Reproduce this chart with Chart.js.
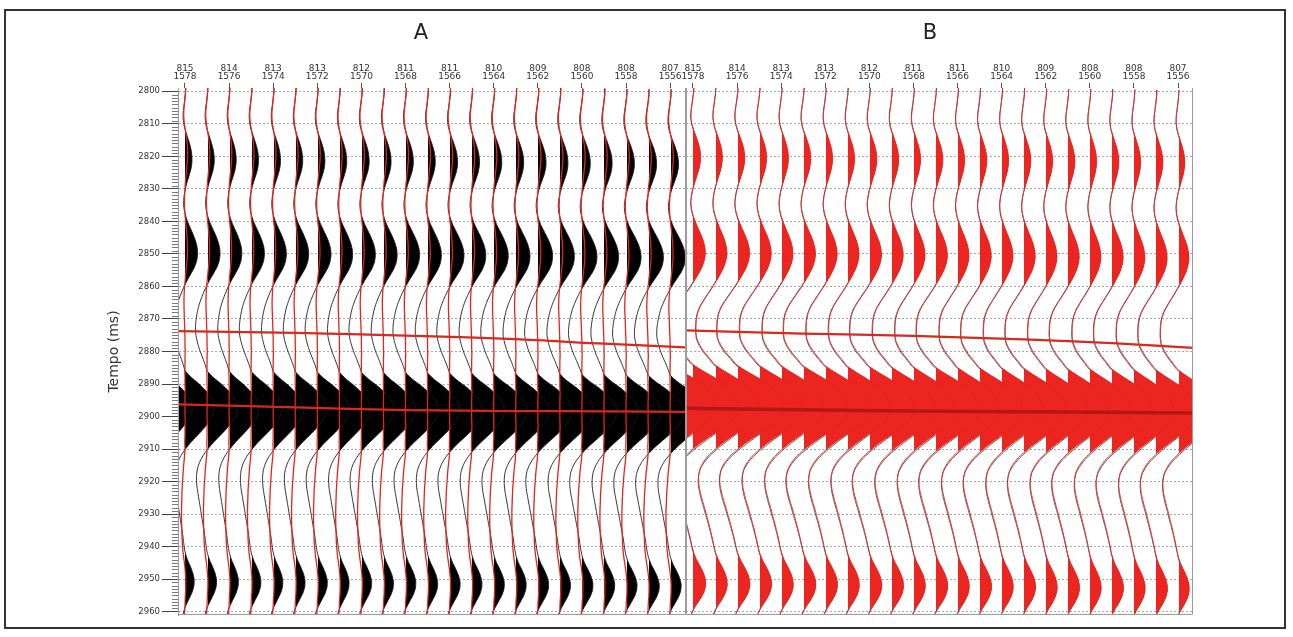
<!DOCTYPE html>
<html>
<head>
<meta charset="utf-8">
<script src="https://cdn.jsdelivr.net/npm/chart.js@4.4.1/dist/chart.umd.min.js"></script>
<style>
  html, body { margin: 0; padding: 0; background: #fff; }
  body { width: 1293px; height: 637px; position: relative; overflow: hidden; font-family: "DejaVu Sans", sans-serif; }
  #frame { position: absolute; left: 4px; top: 9px; width: 1278px; height: 616px; border: 2px solid #333; }
  .panel-title { position: absolute; top: 20px; font-size: 21px; line-height: 24px; color: #222; transform: translateX(-50%); }
  #canvasA { position: absolute; left: 0; top: 0; }
  #canvasB { position: absolute; left: 640px; top: 0; }
</style>
</head>
<body>
<div id="frame"></div>
<canvas id="canvasA" width="692" height="637"></canvas>
<canvas id="canvasB" width="653" height="637"></canvas>
<div class="panel-title" style="left:421px">A</div>
<div class="panel-title" style="left:930px">B</div>
<script>
// sample times (ms) of every trace
const times = [2798, 2800, 2802, 2804, 2806, 2808, 2810, 2812, 2814, 2816,
  2818, 2820, 2822, 2824, 2826, 2828, 2830, 2832, 2834, 2836,
  2838, 2840, 2842, 2844, 2846, 2848, 2850, 2852, 2854, 2856,
  2858, 2860, 2862, 2864, 2866, 2868, 2870, 2872, 2874, 2876,
  2878, 2880, 2882, 2884, 2886, 2888, 2890, 2892, 2894, 2896,
  2898, 2900, 2902, 2904, 2906, 2908, 2910, 2912, 2914, 2916,
  2918, 2920, 2922, 2924, 2926, 2928, 2930, 2932, 2934, 2936,
  2938, 2940, 2942, 2944, 2946, 2948, 2950, 2952, 2954, 2956,
  2958, 2960, 2962];

// trace slots in each panel (-1 sits just left of the visible window)
const traceIdx = [-1, 0, 1, 2, 3, 4, 5, 6, 7, 8, 9, 10, 11, 12, 13, 14, 15, 16, 17, 18, 19, 20, 21, 22];
const labelTraces = [0, 2, 4, 6, 8, 10, 12, 14, 16, 18, 20, 22];
const inlineLabels = ['815', '814', '813', '813', '812', '811', '811', '810', '809', '808', '808', '807'];
const xlineLabels = ['1578', '1576', '1574', '1572', '1570', '1568', '1566', '1564', '1562', '1560', '1558', '1556'];
const yTicks = [2800, 2810, 2820, 2830, 2840, 2850, 2860, 2870, 2880, 2890, 2900, 2910, 2920, 2930, 2940, 2950, 2960];

// panel A: filled black trace, amplitude in trace spacings
const ampA = [0.04, 0.03, 0.0, -0.04, -0.08, -0.09, -0.06, 0.02, 0.12, 0.22,
  0.3, 0.34, 0.34, 0.29, 0.2, 0.1, 0.02, -0.04, -0.07, -0.05,
  0.02, 0.12, 0.26, 0.4, 0.52, 0.6, 0.62, 0.58, 0.47, 0.3,
  0.12, -0.04, -0.18, -0.3, -0.4, -0.47, -0.52, -0.55, -0.55, -0.5,
  -0.42, -0.32, -0.2, -0.09, 0.02, 0.32, 0.7, 1.02, 1.28, 1.42,
  1.44, 1.34, 1.14, 0.88, 0.58, 0.28, 0.02, -0.2, -0.36, -0.46,
  -0.5, -0.5, -0.47, -0.42, -0.37, -0.32, -0.27, -0.22, -0.17, -0.12,
  -0.08, -0.04, 0.02, 0.12, 0.26, 0.38, 0.45, 0.44, 0.35, 0.2,
  0.05, -0.07, -0.12];
// panel A: red line trace
const redA = [0.04, 0.03, 0.0, -0.03, -0.06, -0.06, -0.03, 0.02, 0.07, 0.11,
  0.13, 0.13, 0.11, 0.08, 0.05, 0.02, 0.0, -0.02, -0.03, -0.02,
  0.0, 0.03, 0.06, 0.09, 0.11, 0.12, 0.12, 0.1, 0.07, 0.04,
  0.01, -0.02, -0.04, -0.05, -0.05, -0.04, -0.03, -0.02, -0.01, 0.0,
  0.0, 0.01, 0.0, 0.0, -0.01, 0.0, 0.0, 0.01, 0.0, 0.0,
  0.0, 0.0, 0.01, 0.0, 0.0, -0.01, 0.0, -0.02, -0.05, -0.08,
  -0.1, -0.12, -0.14, -0.15, -0.16, -0.17, -0.17, -0.17, -0.16, -0.15,
  -0.14, -0.12, -0.09, -0.05, -0.01, 0.02, 0.04, 0.04, 0.03, 0.01,
  0.0, -0.02, -0.03];
// panel B: filled red trace
const ampB = [0.04, 0.03, 0.0, -0.04, -0.08, -0.09, -0.05, 0.04, 0.14, 0.24,
  0.31, 0.34, 0.32, 0.26, 0.17, 0.08, 0.0, -0.06, -0.09, -0.07,
  0.0, 0.1, 0.22, 0.35, 0.46, 0.53, 0.55, 0.5, 0.4, 0.25,
  0.08, -0.1, -0.3, -0.5, -0.68, -0.8, -0.86, -0.88, -0.88, -0.84,
  -0.7, -0.5, -0.25, 0.0, 0.45, 0.95, 1.38, 1.7, 1.9, 2.0,
  2.0, 1.88, 1.6, 1.2, 0.78, 0.36, 0.0, -0.32, -0.55, -0.7,
  -0.76, -0.76, -0.72, -0.65, -0.57, -0.48, -0.4, -0.32, -0.24, -0.17,
  -0.1, -0.04, 0.04, 0.16, 0.32, 0.46, 0.55, 0.56, 0.48, 0.32,
  0.12, -0.04, -0.12];
// panel B: black line trace
const lineB = [0.05, 0.03, -0.01, -0.05, -0.09, -0.1, -0.06, 0.02, 0.12, 0.21,
  0.28, 0.31, 0.3, 0.25, 0.16, 0.07, -0.01, -0.07, -0.1, -0.08,
  -0.02, 0.08, 0.2, 0.32, 0.43, 0.5, 0.52, 0.48, 0.38, 0.23,
  0.06, -0.12, -0.32, -0.52, -0.7, -0.82, -0.88, -0.9, -0.9, -0.86,
  -0.74, -0.55, -0.3, -0.05, 0.4, 0.9, 1.35, 1.68, 1.9, 2.0,
  2.0, 1.9, 1.64, 1.26, 0.85, 0.45, 0.08, -0.25, -0.5, -0.68,
  -0.76, -0.78, -0.75, -0.69, -0.61, -0.52, -0.44, -0.35, -0.27, -0.19,
  -0.12, -0.05, 0.02, 0.13, 0.29, 0.43, 0.52, 0.54, 0.47, 0.33,
  0.14, -0.02, -0.1];

// per-trace gain and time shift (ms)
const gainA = [0.92, 0.92, 0.95, 0.93, 0.97, 0.96, 0.98, 1.0, 0.97, 1.02, 1.0, 1.03,
  1.01, 1.05, 1.03, 1.06, 1.04, 1.08, 1.06, 1.1, 1.07, 1.1, 1.12, 1.1];
const gainB = [1.0, 1.02, 0.98, 1.03, 1.0, 0.97, 1.01, 0.98, 0.96, 1.0, 0.97, 0.95,
  0.98, 0.94, 0.96, 0.93, 0.95, 0.92, 0.94, 0.91, 0.93, 0.9, 0.92, 0.9];
const shiftA = [0, 0, 0.1, 0.1, 0.2, 0.3, 0.3, 0.4, 0.5, 0.5, 0.6, 0.6,
  0.7, 0.8, 0.8, 0.9, 1.0, 1.0, 1.1, 1.2, 1.2, 1.3, 1.4, 1.4];
const shiftB = [0, 0, 0.1, 0.2, 0.2, 0.3, 0.4, 0.4, 0.5, 0.6, 0.7, 0.7,
  0.8, 0.9, 1.0, 1.0, 1.1, 1.2, 1.3, 1.3, 1.4, 1.5, 1.6, 1.6];

// picked horizons (ms) at a few trace slots
const hznX = [-1, 5, 10, 15, 19, 23];
const hznA1 = [2873.7, 2874.3, 2875.1, 2876.2, 2877.6, 2878.8];
const hznA2 = [2896.1, 2897.2, 2898.0, 2898.3, 2898.4, 2898.6];
const hznB1 = [2873.4, 2874.5, 2875.2, 2876.3, 2877.4, 2879.0];
const hznB2 = [2897.4, 2897.9, 2898.3, 2898.5, 2898.7, 2898.9];

const FONT = 'DejaVu Sans';

function wiggle(amp, gain, shift, k) {
  return times.map((t, n) => ({ x: traceIdx[k] + amp[n] * gain[k], y: t + shift[k] }));
}

function horizon(ts, color, width) {
  return { data: hznX.map((x, n) => ({ x, y: ts[n] })), borderColor: color, borderWidth: width, tension: 0.3 };
}

// variable-area fill: positive side of each trace, filled from its zero line
const varArea = {
  id: 'varArea',
  beforeDatasetDraw(chart, args) {
    const ds = chart.data.datasets[args.index];
    if (!ds.areaColor) return;
    const { ctx, chartArea: a } = chart;
    const base = chart.scales.x.getPixelForValue(ds.base);
    const left = Math.max(Math.ceil(base), a.left);
    if (left >= a.right) return;
    const pts = args.meta.data;
    ctx.save();
    ctx.beginPath();
    ctx.rect(left, a.top, a.right - left, a.bottom - a.top);
    ctx.clip();
    ctx.beginPath();
    args.meta.dataset.path(ctx);
    ctx.lineTo(base, pts[pts.length - 1].y);
    ctx.lineTo(base, pts[0].y);
    ctx.closePath();
    ctx.fillStyle = ds.areaColor;
    ctx.fill();
    ctx.restore();
  }
};

// 1 ms minor ticks on the time axis
const minorTicks = {
  id: 'minorTicks',
  afterDraw(chart) {
    const { ctx, chartArea: a, scales: { y } } = chart;
    ctx.save();
    ctx.strokeStyle = '#555';
    ctx.lineWidth = 0.8;
    ctx.beginPath();
    for (let v = yTicks[0]; v <= yTicks[yTicks.length - 1]; v++) {
      if (yTicks.includes(v)) continue;
      const p = Math.round(y.getPixelForValue(v)) + 0.5;
      ctx.moveTo(a.left - 6, p);
      ctx.lineTo(a.left, p);
    }
    ctx.stroke();
    ctx.restore();
  }
};

// plot frame: left, right and bottom edges
const frame = {
  id: 'frame',
  afterDatasetsDraw(chart) {
    const { ctx, chartArea: a } = chart;
    ctx.save();
    ctx.strokeStyle = '#9c9c9c';
    ctx.lineWidth = 1;
    ctx.beginPath();
    ctx.moveTo(a.left + 0.5, a.top);
    ctx.lineTo(a.left + 0.5, a.bottom - 0.5);
    ctx.lineTo(a.right - 0.5, a.bottom - 0.5);
    ctx.lineTo(a.right - 0.5, a.top);
    ctx.stroke();
    ctx.restore();
  }
};

function xScale(max) {
  return {
    type: 'linear', position: 'top', min: -0.317, max,
    afterBuildTicks: s => { s.ticks = labelTraces.map(v => ({ value: v })); },
    afterFit: s => { s.height = 88; },
    grid: { drawOnChartArea: false, drawTicks: true, tickLength: 5, tickColor: '#555' },
    border: { display: false },
    ticks: {
      autoSkip: false, maxRotation: 0, padding: 2, color: '#333',
      font: { family: FONT, size: 9, lineHeight: 0.9 },
      callback: v => {
        const k = labelTraces.indexOf(v);
        return k < 0 ? '' : [inlineLabels[k], xlineLabels[k]];
      }
    }
  };
}

const baseOptions = {
  responsive: false,
  animation: false,
  events: [],
  elements: {
    point: { radius: 0 },
    line: { tension: 0.2, capBezierPoints: false, fill: false }
  },
  plugins: { legend: { display: false }, tooltip: { enabled: false }, title: { display: false } }
};

// ---- panel A
const dsA = [horizon(hznA1, '#d42a20', 2.2), horizon(hznA2, '#d42a20', 2.2)];
traceIdx.forEach((tr, k) => dsA.push({ data: wiggle(redA, gainA, shiftA, k), borderColor: '#e3231d', borderWidth: 1.3 }));
traceIdx.forEach((tr, k) => dsA.push({ data: wiggle(ampA, gainA, shiftA, k), borderColor: '#1a1a1a', borderWidth: 0.9, areaColor: '#000', base: tr }));

new Chart(document.getElementById('canvasA'), {
  type: 'line',
  data: { datasets: dsA },
  options: Object.assign({}, baseOptions, {
    layout: { padding: { left: 0, right: 6, top: 0, bottom: 22 } },
    scales: {
      x: xScale(22.72),
      y: {
        type: 'linear', position: 'left', reverse: true, min: 2799, max: 2961,
        afterBuildTicks: s => { s.ticks = yTicks.map(v => ({ value: v })); },
        afterFit: s => { s.width = 178; },
        grid: { color: '#a8a8a8', tickColor: '#444', tickLength: 16 },
        border: { display: true, color: '#888', dash: [2, 2] },
        ticks: { padding: 2, color: '#333', font: { family: FONT, size: 8.5 }, callback: v => String(v) },
        title: { display: true, text: 'Tempo (ms)', color: '#333', font: { family: FONT, size: 14 }, padding: { top: 106, bottom: 0 } }
      }
    }
  }),
  plugins: [varArea, minorTicks, frame]
});

// ---- panel B
const dsB = [horizon(hznB1, '#d42a20', 2.2), horizon(hznB2, '#b51712', 3.5)];
traceIdx.forEach((tr, k) => dsB.push({ data: wiggle(ampB, gainB, shiftB, k), borderColor: '#e5221d', borderWidth: 0.9, areaColor: '#ec2521', base: tr }));
traceIdx.forEach((tr, k) => dsB.push({ data: wiggle(lineB, gainB, shiftB, k), borderColor: '#4d4d4d', borderWidth: 0.9 }));

new Chart(document.getElementById('canvasB'), {
  type: 'line',
  data: { datasets: dsB },
  options: Object.assign({}, baseOptions, {
    layout: { padding: { left: 46, right: 100, top: 0, bottom: 22 } },
    scales: {
      x: xScale(22.68),
      y: {
        type: 'linear', position: 'left', reverse: true, min: 2799, max: 2961,
        afterBuildTicks: s => { s.ticks = yTicks.map(v => ({ value: v })); },
        afterFit: s => { s.width = 0; },
        grid: { color: '#a8a8a8', drawTicks: false },
        border: { display: false, dash: [2, 2] },
        ticks: { display: false }
      }
    }
  }),
  plugins: [varArea, frame]
});
</script>
</body>
</html>
